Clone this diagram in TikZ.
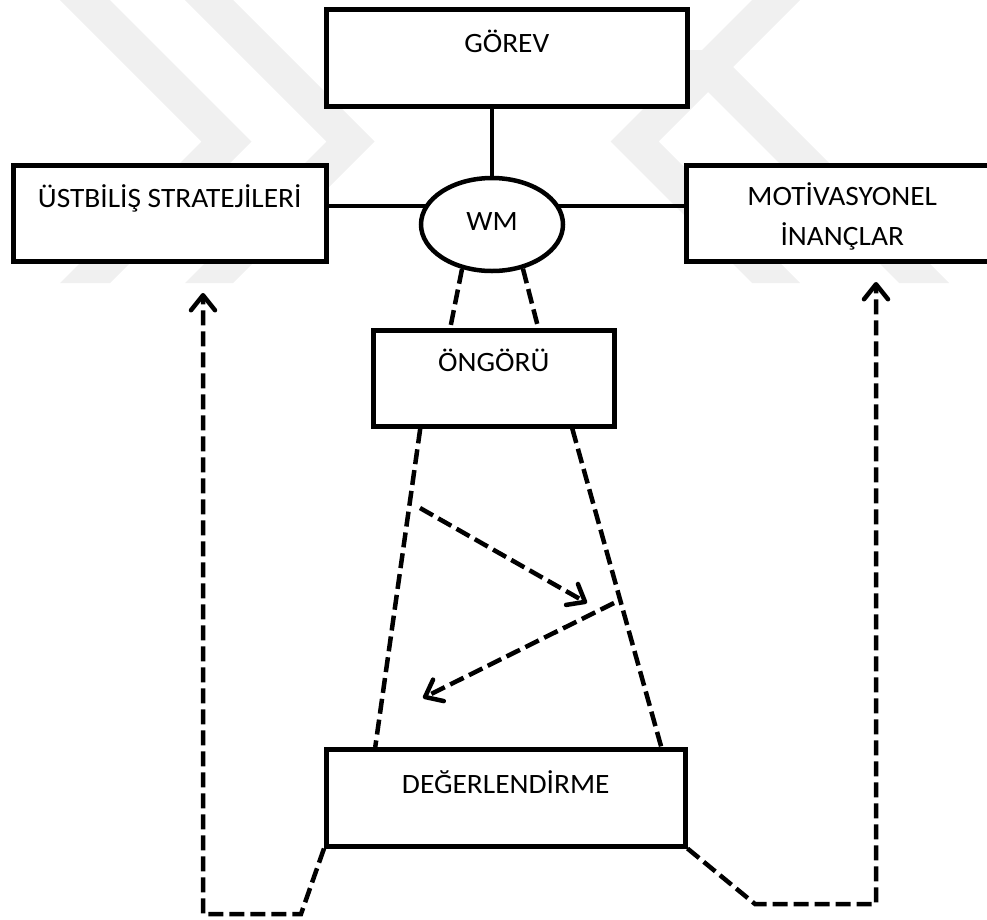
\documentclass[tikz,border=0pt]{standalone}
\usepackage{fontspec}
\setmainfont{Carlito}[FakeStretch=1.05]
\usetikzlibrary{arrows.meta,shapes.geometric}
\definecolor{wmark}{HTML}{F0F0F0}
\begin{document}
\begin{tikzpicture}[x=1pt,y=1pt,
  line width=4.5pt,
  every node/.style={font=\fontsize{28}{40}\selectfont},
  box/.style={draw, fill=white, rectangle, inner xsep=0pt, inner ysep=0pt, minimum width=#1, anchor=north west},
  dsh/.style={dash pattern=on 15pt off 6pt},
  tip/.style={-{Straight Barb[length=15pt,width=24pt,round]}},
  band/.style={fill=wmark, draw=none}
]
\useasboundingbox (0,0) rectangle (987,-919);

% faint watermark
\fill[band] (60,0) -- (110,0) -- (251.5,-141.5) -- (110,-283) -- (60,-283) -- (201.5,-141.5) -- cycle;
\fill[band] (185,0) -- (233,0) -- (374.5,-141.5) -- (233,-283) -- (185,-283) -- (326.5,-141.5) -- cycle;
\fill[band] (752,0) -- (800,0) -- (658.5,-141.5) -- (800,-283) -- (752,-283) -- (610.5,-141.5) -- cycle;
\fill[band] (666,-50) -- (716,-50) -- (949,-283) -- (899,-283) -- cycle;

\node[box=361pt, text height=43pt, text depth=54pt] (gorev) at (324,-7) {GÖREV};
\node[box=313pt, text height=42pt, text depth=54pt] (ustb) at (11,-163) {ÜSTBİLİŞ STRATEJİLERİ};
\node[box=312pt, align=center, text height=80pt, text depth=16pt] (motiv) at (684,-163) {MOTİVASYONEL\\İNANÇLAR};

% solid connectors
\draw (ustb.east |- 0,-206) -- (492,-206) -- (motiv.west |- 0,-206);
\node[draw, fill=white, ellipse, minimum width=142pt, minimum height=93pt, inner sep=0pt,
      text height=18pt, text depth=6pt] (wm) at (492,-224.5) {WM};
\draw (wm.north) -- (wm.north |- gorev.south);

\node[box=241pt, text height=41pt, text depth=55pt] (ong) at (371,-328) {ÖNGÖRÜ};
\node[box=359pt, text height=44pt, text depth=53pt] (deg) at (324,-747) {DEĞERLENDİRME};

% dashed WM -> ÖNGÖRÜ
\draw[dsh] (wm.236) -- ([xshift=-43.5pt]ong.north);
\draw[dsh] (wm.305) -- ([xshift=44.5pt]ong.north);

% trapezoid
\draw[dsh] ([xshift=-73.5pt]ong.south) -- ([xshift=-130.5pt]deg.north);
\draw[dsh] ([xshift=78.5pt]ong.south) -- ([xshift=155.5pt]deg.north);

% inner arrows
\coordinate (a1s) at (420,-508);
\coordinate (a1e) at (587,-603);
\coordinate (a2s) at (614,-603);
\coordinate (a2e) at (423,-698);
\draw[dsh, tip] (a1s) -- (a1e);
\draw[dsh, tip] (a2s) -- (a2e);

% feedback loops
\coordinate (lb1) at (301,-914);
\coordinate (lb2) at (203,-914);
\coordinate (lt) at (203,-293);
\draw[dsh, tip] (deg.south west) -- (lb1) -- (lb2) -- (lt);
\coordinate (rb1) at (755,-904);
\coordinate (rb2) at (876,-904);
\coordinate (rt) at (876,-282);
\draw[dsh, tip] (deg.south east) -- (rb1) -- (rb2) -- (rt);
\end{tikzpicture}
\end{document}
